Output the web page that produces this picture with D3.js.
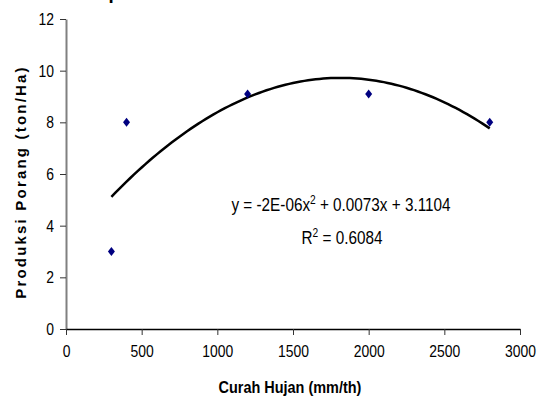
<!DOCTYPE html>
<html>
<head>
<meta charset="utf-8">
<script src="https://cdn.jsdelivr.net/npm/d3@7"></script>
<style>
  body { margin: 0; background: #fff; }
  svg { display: block; }
  text { font-family: "Liberation Sans", Arial, sans-serif; }
</style>
</head>
<body>
<div id="wrapper"></div>
<script>
// Data
const curahHujan = [300, 400, 1200, 2000, 2800];
const produksi = [3, 8, 9.1, 9.1, 8];
const xTicks = [0, 500, 1000, 1500, 2000, 2500, 3000];
const yTicks = [0, 2, 4, 6, 8, 10, 12];
const equationText = "y = -2E-06x";
const equationRest = " + 0.0073x + 3.1104";
const r2Text = " = 0.6084";

// least squares quadratic (polynomial trendline, as in Excel)
const fitQuadratic = (xs, ys) => {
  const n = xs.length;
  let s = [0, 0, 0, 0, 0], t = [0, 0, 0];
  for (let i = 0; i < n; i++) {
    for (let k = 0; k < 5; k++) s[k] += Math.pow(xs[i], k);
    for (let k = 0; k < 3; k++) t[k] += ys[i] * Math.pow(xs[i], k);
  }
  // solve 3x3 with Cramer
  const m = [[s[0], s[1], s[2]], [s[1], s[2], s[3]], [s[2], s[3], s[4]]];
  const det3 = a => a[0][0] * (a[1][1] * a[2][2] - a[1][2] * a[2][1])
    - a[0][1] * (a[1][0] * a[2][2] - a[1][2] * a[2][0])
    + a[0][2] * (a[1][0] * a[2][1] - a[1][1] * a[2][0]);
  const d = det3(m);
  const coef = [0, 1, 2].map(c => det3(m.map((row, r) => row.map((v, j) => j === c ? t[r] : v))) / d);
  return x => coef[0] + coef[1] * x + coef[2] * x * x;
};

function draw() {
  const width = 538, height = 407;
  const narrow = 0.82; // fonte estreita (Arial Narrow) simulada
  const svg = d3.select("#wrapper").append("svg")
    .attr("width", width)
    .attr("height", height);

  const x = d3.scaleLinear().domain([0, 3000]).range([66, 520]);
  const y = d3.scaleLinear().domain([0, 12]).range([329, 19]);

  // pedaço do título cortado no topo
  svg.append("text")
    .attr("x", 116).attr("y", -3.5)
    .attr("text-anchor", "middle")
    .attr("font-family", "Liberation Serif, Times New Roman, serif")
    .attr("font-size", 30)
    .text("p");

  // eixo y
  const yAxis = svg.append("g")
    .attr("transform", "translate(66,0)")
    .call(d3.axisLeft(y).tickValues(yTicks).tickSize(6).tickSizeOuter(0).tickPadding(6).tickFormat(d3.format("d")));
  yAxis.select(".domain").attr("stroke", "#808080").attr("stroke-width", 2);
  yAxis.selectAll(".tick line").attr("stroke", "#333");
  yAxis.selectAll(".tick text")
    .attr("font-size", 17).attr("fill", "#000")
    .attr("x", -12 / narrow)
    .attr("transform", "scale(" + narrow + ",1)");

  // eixo x
  const xAxis = svg.append("g")
    .attr("transform", "translate(0,329)")
    .call(d3.axisBottom(x).tickValues(xTicks).tickSize(6).tickSizeOuter(0).tickPadding(10).tickFormat(d3.format("d")));
  xAxis.select(".domain").attr("stroke", "#000").attr("stroke-width", 1.5);
  xAxis.selectAll(".tick line").attr("stroke", "#333");
  xAxis.selectAll(".tick text")
    .attr("font-size", 17).attr("fill", "#000")
    .attr("transform", "scale(" + narrow + ",1)");

  // títulos dos eixos
  svg.append("text")
    .attr("transform", "translate(290,393) scale(0.85,1)")
    .attr("text-anchor", "middle")
    .attr("font-weight", "bold")
    .attr("font-size", 17)
    .text("Curah Hujan (mm/th)");

  svg.append("text")
    .attr("transform", "translate(26,182) rotate(-90)")
    .attr("text-anchor", "middle")
    .attr("font-weight", "bold")
    .attr("font-size", 15)
    .attr("letter-spacing", 2.2)
    .text("Produksi Porang (ton/Ha)");

  // linha de tendência polinomial
  const f = fitQuadratic(curahHujan, produksi);
  const xs = d3.range(d3.min(curahHujan), d3.max(curahHujan) + 1, 25);
  const line = d3.line().x(d => x(d)).y(d => y(f(d)));
  svg.append("path")
    .attr("d", line(xs))
    .attr("fill", "none")
    .attr("stroke", "#000")
    .attr("stroke-width", 2.5);

  // pontos (losangos)
  const diamond = "M0,-4.5L3.5,0L0,4.5L-3.5,0Z";
  svg.append("g").selectAll("path")
    .data(curahHujan)
    .join("path")
      .attr("d", diamond)
      .attr("transform", (d, i) => "translate(" + x(d) + "," + y(produksi[i]) + ")")
      .attr("fill", "#000080");

  // equação
  const eq = svg.append("text")
    .attr("transform", "translate(341,211) scale(0.85,1)")
    .attr("text-anchor", "middle")
    .attr("font-size", 18);
  eq.append("tspan").text(equationText);
  eq.append("tspan").attr("dy", -7).attr("font-size", 12).text("2");
  eq.append("tspan").attr("dy", 7).text(equationRest);

  const r2 = svg.append("text")
    .attr("transform", "translate(342,244) scale(0.85,1)")
    .attr("text-anchor", "middle")
    .attr("font-size", 18);
  r2.append("tspan").text("R");
  r2.append("tspan").attr("dy", -7).attr("font-size", 12).text("2");
  r2.append("tspan").attr("dy", 7).text(r2Text);
}
draw();
</script>
</body>
</html>
